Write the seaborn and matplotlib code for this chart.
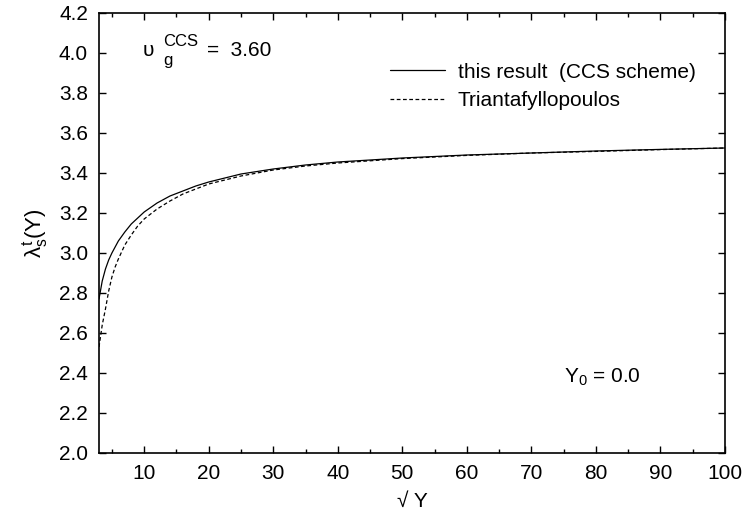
import numpy as np
import pandas as pd
import matplotlib
matplotlib.use("Agg")
import matplotlib.pyplot as plt
import seaborn as sns
from matplotlib.ticker import MultipleLocator

sqrtY = [3, 3.5, 4, 4.5, 5, 5.5, 6, 7, 8, 9, 10, 12, 14, 16, 18, 20, 25, 30, 35, 40, 50, 60, 70, 80, 90, 100]
ccs = [2.77, 2.86, 2.92, 2.965, 3.00, 3.03, 3.06, 3.105, 3.145, 3.175, 3.205, 3.25, 3.285, 3.31, 3.335, 3.355,
       3.395, 3.42, 3.44, 3.455, 3.475, 3.49, 3.50, 3.51, 3.518, 3.525]
triant = [2.53, 2.64, 2.72, 2.81, 2.88, 2.93, 2.97, 3.04, 3.09, 3.135, 3.17, 3.22, 3.26, 3.295, 3.32, 3.345,
          3.385, 3.415, 3.435, 3.45, 3.472, 3.488, 3.50, 3.508, 3.517, 3.525]
labels = ["this result  (CCS scheme)", "Triantafyllopoulos"]
xticks = [10, 20, 30, 40, 50, 60, 70, 80, 90, 100]
yticks = [2.0, 2.2, 2.4, 2.6, 2.8, 3.0, 3.2, 3.4, 3.6, 3.8, 4.0, 4.2]

sns.set_theme(style="ticks")
plt.rcParams['font.family'] = ['Liberation Sans', 'DejaVu Sans']
plt.rcParams['mathtext.fontset'] = 'custom'
plt.rcParams['mathtext.rm'] = 'Liberation Sans'
plt.rcParams['mathtext.it'] = 'Liberation Sans'
plt.rcParams['mathtext.bf'] = 'Liberation Sans'
for k in ['text.color', 'axes.labelcolor', 'xtick.color', 'ytick.color', 'axes.edgecolor']:
    plt.rcParams[k] = 'black'

FS = 15
fig = plt.figure(figsize=(7.47, 5.21), dpi=100)
ax = fig.add_axes([99/747, 1-453/521, (725-99)/747, (453-13)/521])

df = pd.concat([
    pd.DataFrame({"x": sqrtY, "y": ccs, "s": labels[0]}),
    pd.DataFrame({"x": sqrtY, "y": triant, "s": labels[1]}),
])
sns.lineplot(data=df, x="x", y="y", style="s", hue="s",
             palette=["black", "black"], dashes=[(None, None), (3, 2)],
             linewidth=0.9, ax=ax, sort=False, estimator=None)

ax.set_xlim(3, 100)
ax.set_ylim(2.0, 4.2)
ax.set_xticks(xticks)
ax.set_yticks(yticks)
ax.set_yticklabels([f"{v:.1f}" for v in yticks])
ax.xaxis.set_minor_locator(MultipleLocator(5))
ax.tick_params(which='both', direction='in', top=True, right=True, labelsize=FS, pad=8, width=1,
               color='black', labelcolor='black')
ax.tick_params(which='major', length=5)
ax.tick_params(which='minor', length=3)
for sp in ax.spines.values():
    sp.set_linewidth(1.2)
    sp.set_color('black')

ax.set_xlabel("√ Y", fontsize=FS, labelpad=6)
ax.set_ylabel(r"$\lambda_s^t$(Y)", fontsize=FS + 1, labelpad=6)

# annotation  υ_g^CCS = 3.60 (gnuplot-style enhanced text)
ax.text(9.8, 4.015, "υ", fontsize=FS, va='center', ha='left')
ax.text(12.9, 4.055, "CCS", fontsize=12, va='center', ha='left')
ax.text(12.9, 3.965, "g", fontsize=12, va='center', ha='left')
ax.text(19.7, 4.015, "=  3.60", fontsize=FS, va='center', ha='left')

ax.text(75, 2.38, r"Y$_0$ = 0.0", fontsize=FS, va='center', ha='left')

leg = ax.legend(title=None, frameon=False, loc='upper right', fontsize=FS,
                bbox_to_anchor=(0.953, 0.887), borderaxespad=0, borderpad=0,
                handlelength=2.65, handletextpad=0.6, labelspacing=0.45)

fig.savefig("out.png", dpi=100)
